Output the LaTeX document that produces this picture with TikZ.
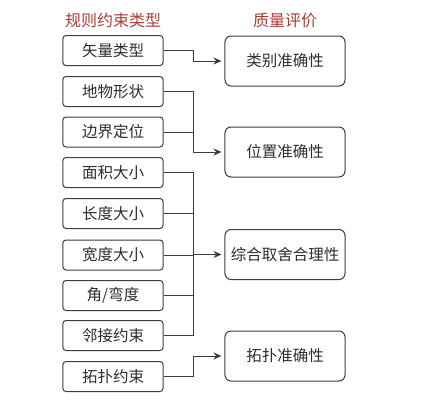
\documentclass[tikz,border=0pt]{standalone}
\usepackage{fontspec}
\usepackage{tikz}
\usetikzlibrary{arrows.meta}
\newfontfamily\cjk{Noto Sans CJK SC}
\definecolor{headred}{RGB}{165,62,52}
\definecolor{linegray}{RGB}{60,60,60}
\definecolor{textgray}{RGB}{45,45,45}
\tikzstyle{rule}=[draw=linegray, line width=1bp, rounded corners=3bp, minimum width=100bp, minimum height=30bp, inner sep=0pt, text=textgray, font=\cjk\fontsize{15.5bp}{18bp}\selectfont]
\tikzstyle{quality}=[rule, minimum width=120bp, minimum height=50bp, rounded corners=6bp, font=\cjk\fontsize{15.5bp}{18bp}\selectfont]
\tikzstyle{head}=[text=headred, font=\cjk\fontsize{16bp}{18bp}\selectfont]
\tikzstyle{arrow}=[-{Stealth[length=8bp,width=7bp]}, shorten >=3bp]

\begin{document}
\begin{tikzpicture}[x=1bp, y=-1bp]
      \useasboundingbox (0,0) rectangle (421,402);
      \node[head](h1) at (113,20) {规则约束类型};
      \node[head](h2) at (285,20) {质量评价};
      % rule constraint types
      \node[rule](r1) at (113,50.5) {矢量类型};
      \node[rule](r2) at (113,91.5) {地物形状};
      \node[rule](r3) at (113,132) {边界定位};
      \node[rule](r4) at (113,172.5) {面积大小};
      \node[rule](r5) at (113,213.5) {长度大小};
      \node[rule](r6) at (113,255) {宽度大小};
      \node[rule](r7) at (113,295.5) {角/弯度};
      \node[rule](r8) at (113,335.5) {邻接约束};
      \node[rule](r9) at (113,376.5) {拓扑约束};
      % quality evaluation
      \node[quality](q1) at (285,61) {类别准确性};
      \node[quality](q2) at (285,152) {位置准确性};
      \node[quality](q3) at (285,254.5) {综合取舍合理性};
      \node[quality](q4) at (285,356) {拓扑准确性};
      \coordinate (bus) at (193,0);
      \begin{scope}[every path/.style={draw=linegray, line width=1bp}]
        \draw[arrow] (r1.east) -| (q1.west -| bus) -- (q1.west);
        \draw[arrow] (r2.east) -| (q2.west -| bus) -- (q2.west);
        \draw (r3.east) -- (r3.east -| bus);
        \draw (r4.east) -| (r8.east -| bus) -- (r8.east);
        \draw (r5.east) -- (r5.east -| bus);
        \draw (r6.east) -- (r6.east -| bus);
        \draw (r7.east) -- (r7.east -| bus);
        \draw[arrow] (q3.west -| bus) -- (q3.west);
        \draw[arrow] (r9.east) -| (q4.west -| bus) -- (q4.west);
      \end{scope}
    \end{tikzpicture}
\end{document}
